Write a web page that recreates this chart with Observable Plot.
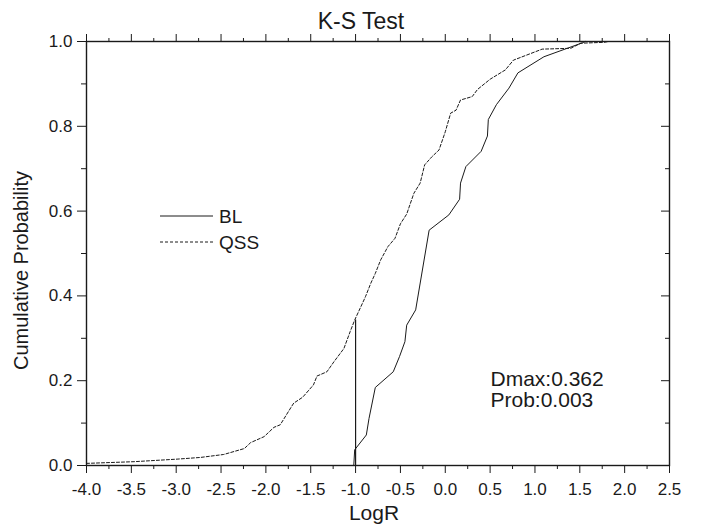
<!DOCTYPE html>
<html>
<head>
<meta charset="utf-8">
<script src="https://cdn.jsdelivr.net/npm/d3@7"></script>
<script src="https://cdn.jsdelivr.net/npm/@observablehq/plot@0.6"></script>
<style>
  html, body { margin: 0; padding: 0; background: #fff; }
  #chart { width: 701px; height: 532px; font-family: "Liberation Sans", Arial, sans-serif; }
</style>
</head>
<body>
<div id="chart"></div>
<script>
// ---- Data ----
const title = "K-S Test";
const xLabel = "LogR";
const yLabel = "Cumulative Probability";
const seriesNames = ["BL", "QSS"];
const statLines = ["Dmax:0.362", "Prob:0.003"];

const blX = [-1.02, -1.01, -0.88, -0.85, -0.78, -0.58, -0.51, -0.45, -0.43, -0.33, -0.18, 0.04, 0.16, 0.17, 0.23, 0.40, 0.47, 0.48, 0.57, 0.71, 0.81, 1.10, 1.53, 1.56];
const blY = [0.0, 0.037, 0.072, 0.111, 0.184, 0.221, 0.257, 0.292, 0.331, 0.367, 0.555, 0.591, 0.628, 0.666, 0.705, 0.741, 0.777, 0.816, 0.851, 0.890, 0.926, 0.964, 0.997, 1.0];

const qssX = [-4.0, -3.47, -2.99, -2.73, -2.47, -2.24, -2.17, -2.02, -1.91, -1.84, -1.72, -1.69, -1.59, -1.47, -1.43, -1.32, -1.24, -1.13, -1.06, -1.01, -0.94, -0.89, -0.83, -0.78, -0.72, -0.64, -0.56, -0.50, -0.43, -0.35, -0.28, -0.23, -0.15, -0.07, 0.0, 0.06, 0.12, 0.17, 0.30, 0.36, 0.50, 0.67, 0.76, 1.08, 1.40, 1.51, 1.77, 1.82];
const qssY = [0.005, 0.009, 0.015, 0.019, 0.026, 0.040, 0.054, 0.068, 0.090, 0.096, 0.137, 0.147, 0.161, 0.190, 0.211, 0.221, 0.245, 0.276, 0.316, 0.343, 0.375, 0.398, 0.430, 0.453, 0.485, 0.516, 0.536, 0.570, 0.593, 0.642, 0.666, 0.709, 0.728, 0.744, 0.787, 0.831, 0.838, 0.862, 0.870, 0.887, 0.911, 0.933, 0.956, 0.982, 0.984, 0.996, 0.998, 1.0];

const dmaxX = [-1.0];
const dmaxLow = [0.0];
const dmaxHigh = [0.343];

const xMajor = [-4.0, -3.5, -3.0, -2.5, -2.0, -1.5, -1.0, -0.5, 0.0, 0.5, 1.0, 1.5, 2.0, 2.5];
const xMinor = [-3.75, -3.25, -2.75, -2.25, -1.75, -1.25, -0.75, -0.25, 0.25, 0.75, 1.25, 1.75, 2.25];
const yMajor = [0.0, 0.2, 0.4, 0.6, 0.8, 1.0];
const yMinor = [0.1, 0.3, 0.5, 0.7, 0.9];

// ---- Build tables ----
const bl = blX.map((x, i) => ({x, y: blY[i]}));
const qss = qssX.map((x, i) => ({x, y: qssY[i]}));
const dmax = dmaxX.map((x, i) => ({x, y1: dmaxLow[i], y2: dmaxHigh[i]}));

const FONT = "Liberation Sans, Arial, sans-serif";
const INK = "#1a1a1a";
const fmt = d => d.toFixed(1);
const blank = () => "";

const svg = Plot.plot({
  width: 701,
  height: 532,
  marginLeft: 86,
  marginRight: 32,
  marginTop: 41,
  marginBottom: 67,
  style: {fontFamily: FONT, fontSize: "17px", color: INK, background: "#fff", overflow: "visible"},
  x: {domain: [-4, 2.5]},
  y: {domain: [0, 1]},
  marks: [
    // bottom axis
    Plot.axisX({anchor: "bottom", ticks: xMajor, tickSize: 8, tickPadding: 9, tickFormat: fmt, label: null, fontSize: 17, stroke: INK}),
    Plot.axisX({anchor: "bottom", ticks: xMinor, tickSize: 4, tickFormat: blank, label: null, stroke: INK}),
    // top axis (ticks only)
    Plot.axisX({anchor: "top", ticks: xMajor, tickSize: 8, tickFormat: blank, label: null, stroke: INK}),
    Plot.axisX({anchor: "top", ticks: xMinor, tickSize: 4, tickFormat: blank, label: null, stroke: INK}),
    // left axis
    Plot.axisY({anchor: "left", ticks: yMajor, tickSize: 9, tickPadding: 5, tickFormat: fmt, label: null, fontSize: 17, stroke: INK}),
    Plot.axisY({anchor: "left", ticks: yMinor, tickSize: 5, tickFormat: blank, label: null, stroke: INK}),
    // right axis (inward ticks)
    Plot.axisY({anchor: "right", ticks: yMajor, tickSize: -9, tickFormat: blank, label: null, stroke: INK}),
    Plot.axisY({anchor: "right", ticks: yMinor, tickSize: -5, tickFormat: blank, label: null, stroke: INK}),
    Plot.frame({stroke: INK, strokeWidth: 1.4}),
    // curves
    Plot.line(qss, {x: "x", y: "y", stroke: INK, strokeWidth: 1, strokeDasharray: "3,2"}),
    Plot.line(bl, {x: "x", y: "y", stroke: INK, strokeWidth: 1}),
    Plot.ruleX(dmax, {x: "x", y1: "y1", y2: "y2", stroke: INK, strokeWidth: 1.2}),
    // statistics text
    Plot.text([statLines[0]], {frameAnchor: "top-left", dx: 404, dy: 330, textAnchor: "start", fontSize: 21, fill: INK}),
    Plot.text([statLines[1]], {frameAnchor: "top-left", dx: 404, dy: 351, textAnchor: "start", fontSize: 21, fill: INK}),
    // titles
    Plot.text([title], {frameAnchor: "top", dx: -17, dy: -29, fontSize: 23, fill: INK}),
    Plot.text([xLabel], {frameAnchor: "bottom", dx: -4, dy: 54, fontSize: 21, fill: INK}),
    Plot.text([yLabel], {frameAnchor: "left", textAnchor: "middle", dx: -65, dy: 17, rotate: -90, fontSize: 20, fill: INK})
  ]
});

// legend
const lg = d3.select(svg).append("g")
  .attr("font-family", FONT).attr("font-size", 19).attr("fill", INK)
  .attr("text-anchor", "start");
const legendRows = [
  {name: seriesNames[0], dash: null, y: 216},
  {name: seriesNames[1], dash: "3,2", y: 242}
];
legendRows.forEach(r => {
  lg.append("line").attr("x1", 160).attr("x2", 213).attr("y1", r.y).attr("y2", r.y)
    .attr("stroke", INK).attr("stroke-width", 1)
    .attr("stroke-dasharray", r.dash);
  lg.append("text").attr("x", 219).attr("y", r.y).attr("dy", "0.35em").text(r.name);
});

document.getElementById("chart").appendChild(svg);
</script>
</body>
</html>
